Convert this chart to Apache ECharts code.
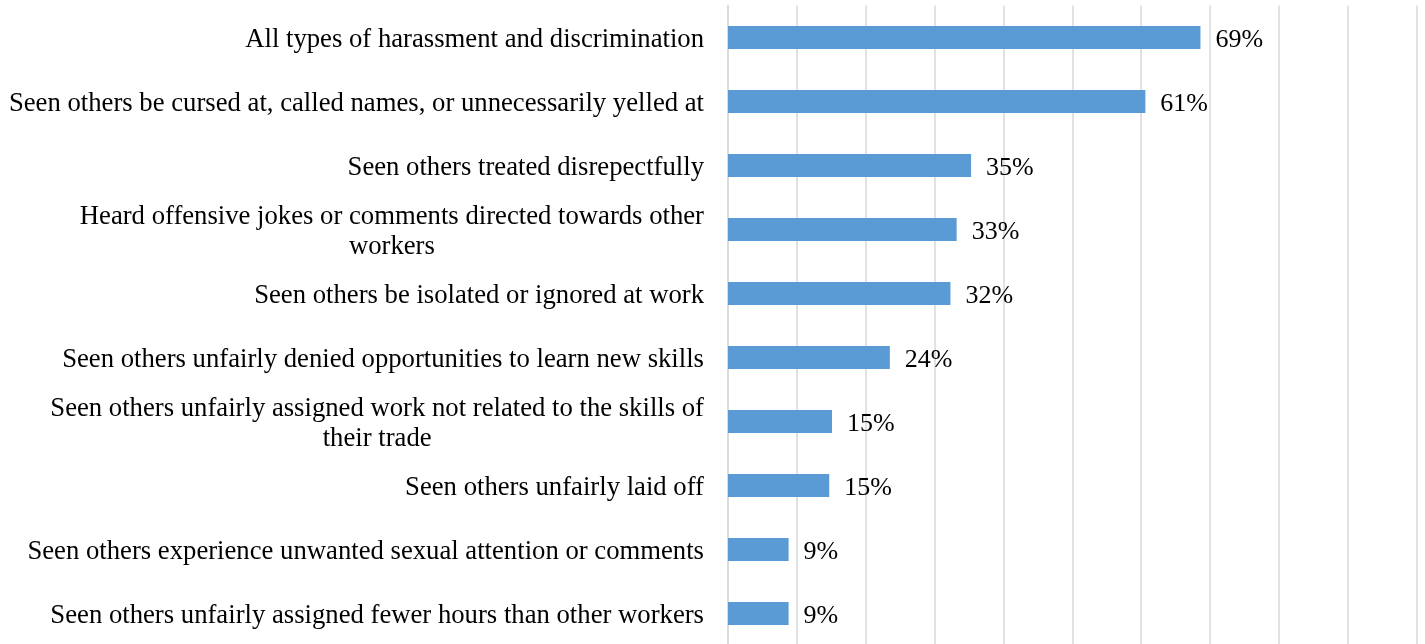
<!DOCTYPE html>
<html>
<head>
<meta charset="utf-8">
<script src="https://cdn.jsdelivr.net/npm/echarts@6/dist/echarts.min.js"></script>
<style>
html,body{margin:0;padding:0;background:#fff;}
#chart{width:1425px;height:644px;}
</style>
</head>
<body>
<div id="chart"></div>
<script>
var categories = [
  "All types of harassment and discrimination",
  "Seen others be cursed at, called names, or unnecessarily yelled at",
  "Seen others treated disrepectfully",
  "Heard offensive jokes or comments directed towards other\nworkers",
  "Seen others be isolated or ignored at work",
  "Seen others unfairly denied opportunities to learn new skills",
  "Seen others unfairly assigned work not related to the skills of\ntheir trade",
  "Seen others unfairly laid off",
  "Seen others experience unwanted sexual attention or comments",
  "Seen others unfairly assigned fewer hours than other workers"
];
var values = [68.6, 60.6, 35.3, 33.2, 32.3, 23.5, 15.1, 14.7, 8.8, 8.8];
var valueLabels = ["69%", "61%", "35%", "33%", "32%", "24%", "15%", "15%", "9%", "9%"];
var axisTicks = [0, 10, 20, 30, 40, 50, 60, 70, 80, 90, 100];

var FONT = "'Liberation Serif', 'Times New Roman', serif";
var chart = echarts.init(document.getElementById('chart'), null, {renderer: 'canvas'});
chart.setOption({
  animation: false,
  grid: {left: 728, right: 8.3, top: 5.5, bottom: -1.5, containLabel: false, outerBoundsMode: 'none'},
  xAxis: {
    type: 'value',
    min: axisTicks[0],
    max: axisTicks[axisTicks.length - 1],
    interval: axisTicks[1] - axisTicks[0],
    axisLine: {show: false},
    axisTick: {show: false},
    axisLabel: {show: false},
    splitLine: {show: true, lineStyle: {color: '#d9d9d9', width: 1.5}}
  },
  yAxis: {
    type: 'category',
    inverse: true,
    data: categories,
    axisLine: {show: true, lineStyle: {color: '#d9d9d9', width: 1.5}},
    axisTick: {show: false},
    axisLabel: {
      margin: 24,
      interval: 0,
      fontFamily: FONT,
      fontSize: 26.7,
      color: '#000',
      lineHeight: 30,
      padding: [5, 0, 0, 0],
      formatter: function (v) {
        return v.split('\n').map(function (s) { return '{c|' + s + '}'; }).join('\n');
      },
      rich: {
        c: {align: 'center', fontFamily: FONT, fontSize: 26.7, color: '#000', lineHeight: 30}
      }
    }
  },
  series: [{
    type: 'bar',
    data: values,
    barWidth: 23,
    itemStyle: {color: '#5b9bd5'},
    label: {
      show: true,
      position: 'right',
      distance: 15,
      offset: [0, 3],
      fontFamily: FONT,
      fontSize: 26,
      color: '#000',
      formatter: function (p) { return valueLabels[p.dataIndex]; }
    }
  }]
});
</script>
</body>
</html>
